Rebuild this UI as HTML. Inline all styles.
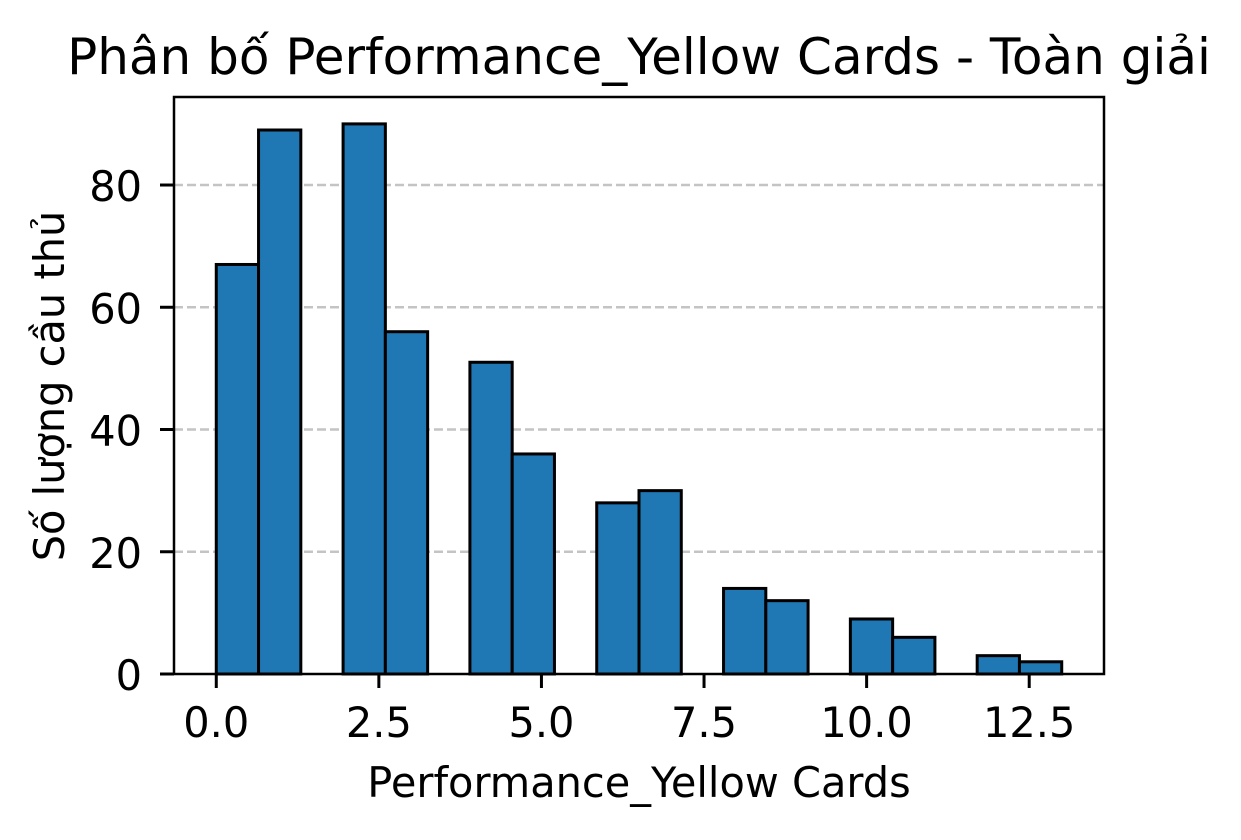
<!DOCTYPE html>
<html><head><meta charset="utf-8"><style>
body{margin:0;background:#fff}
svg text{font-family:"DejaVu Sans","Liberation Sans",sans-serif;fill:#000}
</style></head><body>
<svg id="chart" width="1241" height="835" xmlns="http://www.w3.org/2000/svg">
<rect width="1241" height="835" fill="#fff"/>
<text x="639" y="74" font-size="50" text-anchor="middle">Phân bố Performance_Yellow Cards - Toàn giải</text>
<text x="639" y="797" font-size="41.5" text-anchor="middle">Performance_Yellow Cards</text>
<text transform="translate(64,386) rotate(-90)" font-size="41.5" text-anchor="middle">Số lượng cầu thủ</text>
<g id="grid"></g><g id="bars"></g><g id="ticks"></g>
<rect x="174" y="97" width="930" height="577" fill="none" stroke="#000" stroke-width="2.5"/>
</svg>
<script>
const binStart = 0;
const binWidth = 0.65;
const counts = [67, 89, 0, 90, 56, 0, 51, 36, 0, 28, 30, 0, 14, 12, 0, 9, 6, 0, 3, 2];
const xTicks = [0, 2.5, 5, 7.5, 10, 12.5];
const xTickLabels = ["0.0", "2.5", "5.0", "7.5", "10.0", "12.5"];
const yTicks = [0, 20, 40, 60, 80];
const yTickLabels = ["0", "20", "40", "60", "80"];

const L=174,R=1104,T=97,B=674,xMin=-0.65,xMax=13.65,yMin=0,yMax=94.4;
const sx=v=>L+(v-xMin)/(xMax-xMin)*(R-L);
const sy=v=>B-(v-yMin)/(yMax-yMin)*(B-T);
const NS="http://www.w3.org/2000/svg";
function mk(tag,attrs,parent){const e=document.createElementNS(NS,tag);for(const k in attrs)e.setAttribute(k,attrs[k]);parent.appendChild(e);return e;}
const grid=document.getElementById('grid'),bars=document.getElementById('bars'),ticks=document.getElementById('ticks');
yTicks.forEach((v,i)=>{
  if(v>0){const g=mk('line',{x1:L,x2:R,y1:sy(v),y2:sy(v),stroke:'#c4c4c4','stroke-width':2.5,'stroke-dasharray':'9,4'},grid);
  
  }
  const t=mk('line',{x1:L-14,x2:L,y1:sy(v),y2:sy(v),stroke:'#000','stroke-width':3},ticks);
  
  
  const lb=mk('text',{x:L-32,y:sy(v)+16,'font-size':41.5,'text-anchor':'end'},ticks);lb.textContent=yTickLabels[i];
  
  
});
counts.forEach((c,i)=>{
  if(c<=0)return;
  const x0=sx(binStart+i*binWidth),x1=sx(binStart+(i+1)*binWidth);
  const r=mk('rect',{x:x0,y:sy(c),width:x1-x0,height:sy(0)-sy(c),fill:'#1f77b4',stroke:'#000','stroke-width':3},bars);
  
  
});
xTicks.forEach((v,i)=>{
  const t=mk('line',{x1:sx(v),x2:sx(v),y1:B,y2:B+14,stroke:'#000','stroke-width':3},ticks);
  
  
  const lb=mk('text',{x:sx(v),y:B+63,'font-size':41.5,'text-anchor':'middle'},ticks);lb.textContent=xTickLabels[i];
  
  
});
</script>
</body></html>
